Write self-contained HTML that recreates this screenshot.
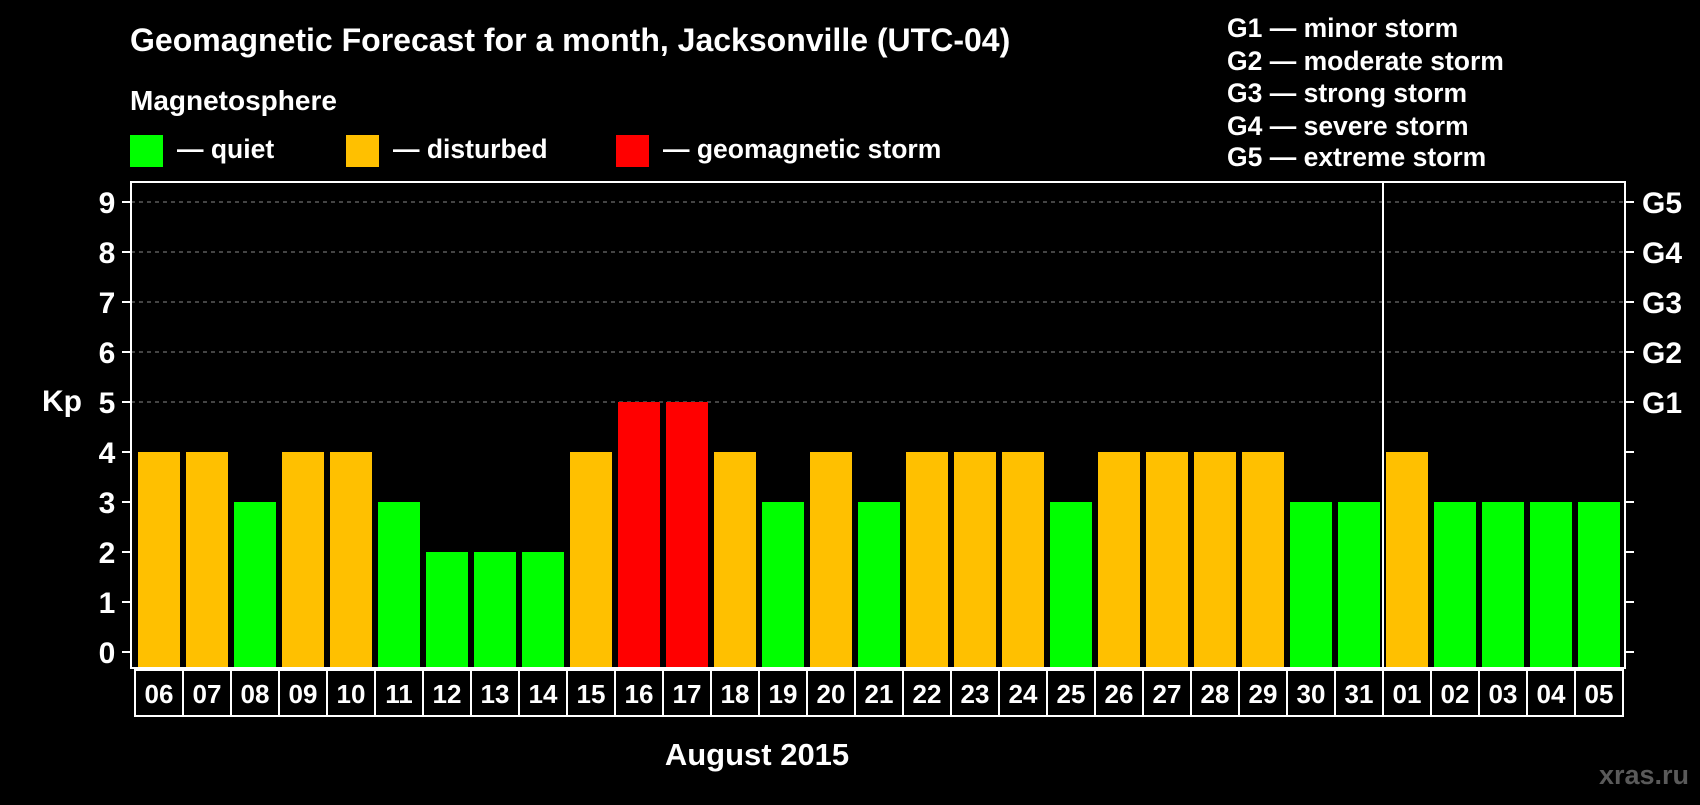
<!DOCTYPE html>
<html><head><meta charset="utf-8"><style>
body{margin:0;background:#000;width:1700px;height:800px;overflow:hidden;font-family:"Liberation Sans",sans-serif;}
svg text{font-family:"Liberation Sans",sans-serif;font-weight:bold;fill:#fff;}
</style></head><body>
<svg id="chart" width="1700" height="800" xmlns="http://www.w3.org/2000/svg">
<text x="130" y="51" font-size="32">Geomagnetic Forecast for a month, Jacksonville (UTC-04)</text>
<text x="130" y="110" font-size="28">Magnetosphere</text>
<g><rect x="130" y="135" width="33" height="32" fill="#00ff00"/><text x="177" y="158" font-size="26.5">— quiet</text></g>
<g><rect x="346" y="135" width="33" height="32" fill="#ffc000"/><text x="393" y="158" font-size="26.5">— disturbed</text></g>
<g><rect x="616" y="135" width="33" height="32" fill="#ff0000"/><text x="663" y="158" font-size="26.5">— geomagnetic storm</text></g>
<g font-size="26.5">
<text x="1227" y="37">G1 — minor storm</text>
<text x="1227" y="70">G2 — moderate storm</text>
<text x="1227" y="102">G3 — strong storm</text>
<text x="1227" y="135">G4 — severe storm</text>
<text x="1227" y="166">G5 — extreme storm</text>
</g>
<g id="grid"></g>
<g id="bars"></g>
<g id="axes"></g>
<text x="62" y="411" font-size="30" text-anchor="middle">Kp</text>
<text x="757" y="765" font-size="31" text-anchor="middle">August 2015</text>
<text x="1689" y="784" font-size="27" text-anchor="end" style="fill:#5a5a5a">xras.ru</text>
</svg>
<script>
const days=["06","07","08","09","10","11","12","13","14","15","16","17","18","19","20","21","22","23","24","25","26","27","28","29","30","31","01","02","03","04","05"];
const kp=[4,4,3,4,4,3,2,2,2,4,5,5,4,3,4,3,4,4,4,3,4,4,4,4,3,3,4,3,3,3,3];
const yTicks=[0,1,2,3,4,5,6,7,8,9];
const gLabels=["G1","G2","G3","G4","G5"];
const NS="http://www.w3.org/2000/svg";
const L=131,R=1625,T=182,B=668,band0=135,bw=48;
function y(v){return 652-v*50;}
function xb(i){return band0+i*bw;}
function mk(tag,attrs,parent){const e=document.createElementNS(NS,tag);for(const k in attrs)e.setAttribute(k,attrs[k]);parent.appendChild(e);return e;}
const grid=document.getElementById('grid'),bars=document.getElementById('bars'),axes=document.getElementById('axes');
for(let v=5;v<=9;v++){const l=mk('line',{x1:L,x2:R,y1:y(v),y2:y(v),stroke:'#888','stroke-dasharray':'4,4','stroke-width':1},grid);

}
kp.forEach((v,i)=>{const c=v>=5?'#ff0000':(v>=4?'#ffc000':'#00ff00');
const r=mk('rect',{x:xb(i)+3,y:y(v),width:42,height:B-1-y(v),fill:c},bars);


const cell=mk('rect',{x:xb(i),y:670,width:bw,height:46,fill:'none',stroke:'#fff','stroke-width':2},axes);


const t=mk('text',{x:xb(i)+bw/2,y:703,'font-size':26,'text-anchor':'middle'},axes);t.textContent=days[i];

});
const fr=mk('rect',{x:L,y:T,width:R-L,height:B-T,fill:'none',stroke:'#fff','stroke-width':2},axes);


const mi=days.indexOf("01");
const dv=mk('line',{x1:xb(mi),x2:xb(mi),y1:T,y2:B,stroke:'#fff','stroke-width':2},axes);


yTicks.forEach(v=>{mk('line',{x1:122,x2:L,y1:y(v),y2:y(v),stroke:'#fff','stroke-width':2},axes);
mk('line',{x1:R,x2:1634,y1:y(v),y2:y(v),stroke:'#fff','stroke-width':2},axes);
const t=mk('text',{x:107,y:y(v)+11,'font-size':30,'text-anchor':'middle'},axes);t.textContent=v;

});
gLabels.forEach((g,i)=>{const t=mk('text',{x:1642,y:y(5+i)+11,'font-size':30},axes);t.textContent=g;

});
</script>
</body></html>
